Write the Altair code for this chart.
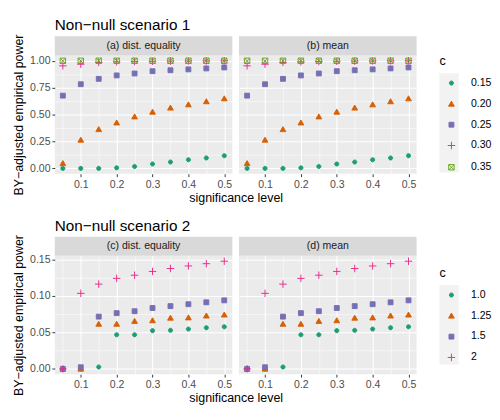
import altair as alt
import pandas as pd

# ---------------- data ----------------
levels = [0.05, 0.10, 0.15, 0.20, 0.25, 0.30, 0.35, 0.40, 0.45, 0.50]

s1_c = ["0.15", "0.20", "0.25", "0.30", "0.35"]
s1_p015 = [0.0, 0.0, 0.0, 0.005, 0.018, 0.041, 0.059, 0.080, 0.097, 0.118]
s1_p020 = [0.047, 0.265, 0.363, 0.425, 0.481, 0.525, 0.563, 0.593, 0.622, 0.649]
s1_p025 = [0.676, 0.782, 0.832, 0.864, 0.882, 0.903, 0.912, 0.920, 0.929, 0.938]
s1_p030 = [0.953, 0.968, 0.985, 0.990, 0.993, 0.995, 0.997, 0.998, 0.999, 1.0]
s1_p035 = [1.0, 1.0, 1.0, 1.0, 1.0, 1.0, 1.0, 1.0, 1.0, 1.0]

s2_c = ["1.0", "1.25", "1.5", "2"]
s2_p10 = [0.0, 0.0, 0.0026, 0.0467, 0.0467, 0.0523, 0.0528, 0.0545, 0.0563, 0.0576]
s2_p125 = [0.0, 0.0, 0.0615, 0.0615, 0.0654, 0.0663, 0.0698, 0.0702, 0.0728, 0.0741]
s2_p15 = [0.0, 0.0022, 0.0715, 0.0763, 0.0789, 0.0833, 0.0859, 0.0885, 0.0911, 0.0938]
s2_p2 = [0.0, 0.1034, 0.116, 0.1239, 0.1282, 0.1334, 0.1374, 0.1409, 0.144, 0.1474]

panels1 = ["(a) dist. equality", "(b) mean"]
panels2 = ["(c) dist. equality", "(d) mean"]
titles = ["Non\u2212null scenario 1", "Non\u2212null scenario 2"]

x_ticks = [0.05, 0.10, 0.15, 0.20, 0.25, 0.30, 0.35, 0.40, 0.45, 0.50]
y1_ticks = [0, 0.125, 0.25, 0.375, 0.5, 0.625, 0.75, 0.875, 1.0]
y2_ticks = [0, 0.025, 0.05, 0.075, 0.10, 0.125, 0.15]

dark2 = ["#1B9E77", "#D95F02", "#7570B3", "#E7298A", "#66A61E"]

# ---------------- shapes ----------------
CIRCLE = "M0.72,0A0.72,0.72,0,1,1,-0.72,0A0.72,0.72,0,1,1,0.72,0Z"
TRI = "M0,-0.95L1.0,0.8L-1.0,0.8Z"
SQUARE = "M-0.85,-0.85L0.85,-0.85L0.85,0.85L-0.85,0.85Z"
PLUS = "M-1.3,0L1.3,0M0,-1.3L0,1.3"
SQX = "M-0.95,-0.95L0.95,-0.95L0.95,0.95L-0.95,0.95ZM-0.95,-0.95L0.95,0.95M-0.95,0.95L0.95,-0.95"

W, H = 186, 124
GAP = 7
ROW = 20.8
LEGX = 24
FONT = "Liberation Sans"


def make_df(cs, series):
    rows = []
    for c, vals in zip(cs, series):
        for lv, v in zip(levels, vals):
            rows.append({"level": lv, "power": v, "c": c})
    return pd.DataFrame(rows)


df1 = make_df(s1_c, [s1_p015, s1_p020, s1_p025, s1_p030, s1_p035])
df2 = make_df(s2_c, [s2_p10, s2_p125, s2_p15, s2_p2])


def grid_cond(mult):
    return f"abs(round(datum.value*{mult}) - datum.value*{mult}) > 0.001"


def panel(df, label, cs, fills, shapes, ydomain, yticks, ymult, yfmt, left, legend_y):
    xtest = grid_cond(10)
    ytest = grid_cond(ymult)
    xaxis = alt.Axis(
        values=x_ticks,
        labelExpr=f"{xtest} ? '' : format(datum.value, '.1f')",
        gridWidth={"condition": {"test": xtest, "value": 0.55}, "value": 1.1},
        tickOpacity={"condition": {"test": xtest, "value": 0}, "value": 1},
        title="significance level" if left else None,
        titleX=W + GAP / 2,
        titleAlign="center",
        titlePadding=3,
    )
    if left:
        yaxis = alt.Axis(
            values=yticks,
            labelExpr=f"{ytest} ? '' : format(datum.value, '{yfmt}')",
            gridWidth={"condition": {"test": ytest, "value": 0.55}, "value": 1.1},
            tickOpacity={"condition": {"test": ytest, "value": 0}, "value": 1},
            title="BY\u2212adjusted empirical power",
            titlePadding=4,
        )
    else:
        yaxis = alt.Axis(
            values=yticks,
            labels=False,
            ticks=False,
            gridWidth={"condition": {"test": ytest, "value": 0.55}, "value": 1.1},
            title=None,
        )
    legend = alt.Legend(
        title="c",
        orient="none",
        legendX=2 * W + GAP + LEGX,
        legendY=legend_y,
        padding=0,
        symbolSize=36,
        symbolStrokeWidth=1,
        symbolOffset=7,
        labelFontSize=11,
        titleFontSize=13,
        titleFontWeight="normal",
        rowPadding=ROW - 11,
        titlePadding=10,
        labelOffset=15,
    )
    pts = alt.Chart(df).mark_point(opacity=1, size=36, strokeWidth=1).encode(
        x=alt.X("level:Q", scale=alt.Scale(domain=[0.0275, 0.5225], nice=False, zero=False), axis=xaxis),
        y=alt.Y("power:Q", scale=alt.Scale(domain=ydomain, nice=False, zero=False), axis=yaxis),
        fill=alt.Fill("c:N", scale=alt.Scale(domain=cs, range=fills), legend=legend),
        stroke=alt.Stroke("c:N", scale=alt.Scale(domain=cs, range=dark2[: len(cs)]), legend=legend),
        shape=alt.Shape("c:N", scale=alt.Scale(domain=cs, range=shapes), legend=legend),
        order=alt.Order("c:N"),
    )
    lab = pd.DataFrame({"label": [label]})
    strip = alt.Chart(lab).mark_rect(color="#D9D9D9").encode(
        x=alt.value(0), x2=alt.value(W), y=alt.value(-20), y2=alt.value(0)
    )
    txt = alt.Chart(lab).mark_text(fontSize=11, color="#1A1A1A", font=FONT, baseline="middle").encode(
        x=alt.value(W / 2), y=alt.value(-10), text="label:N"
    )
    layers = [strip, txt]
    if not left:
        # grey legend-key background (decoration next to the legend)
        ktop = legend_y + 18.1
        keybg = alt.Chart(lab).mark_rect(color="#F2F2F2").encode(
            x=alt.value(W + LEGX), x2=alt.value(W + LEGX + 20),
            y=alt.value(ktop), y2=alt.value(ktop + ROW * len(cs)),
        )
        layers.append(keybg)
    layers.append(pts)
    return alt.layer(*layers).properties(width=W, height=H)


fills1 = ["#1B9E77", "#D95F02", "#7570B3", "#E7298A", "transparent"]
shapes1 = [CIRCLE, TRI, SQUARE, PLUS, SQX]
fills2 = ["#1B9E77", "#D95F02", "#7570B3", "#E7298A"]
shapes2 = [CIRCLE, TRI, SQUARE, PLUS]


def title(t):
    return alt.Title(t, anchor="start", frame="group", fontSize=16, fontWeight="normal",
                     font=FONT, color="black", offset=1)


row1 = alt.hconcat(
    panel(df1, panels1[0], s1_c, fills1, shapes1, [-0.05, 1.05], y1_ticks, 4, ".2f", True, 0.5),
    panel(df1, panels1[1], s1_c, fills1, shapes1, [-0.05, 1.05], y1_ticks, 4, ".2f", False, 0.5),
    spacing=GAP,
    bounds="flush",
    title=title(titles[0]),
).resolve_scale(fill="shared", stroke="shared", shape="shared")

row2 = alt.hconcat(
    panel(df2, panels2[0], s2_c, fills2, shapes2, [-0.00737, 0.1547], y2_ticks, 20, ".2f", True, 12.5),
    panel(df2, panels2[1], s2_c, fills2, shapes2, [-0.00737, 0.1547], y2_ticks, 20, ".2f", False, 12.5),
    spacing=GAP,
    bounds="flush",
    title=title(titles[1]),
).resolve_scale(fill="shared", stroke="shared", shape="shared")

chart = alt.vconcat(row1, row2, spacing=14).resolve_scale(
    fill="independent", stroke="independent", shape="independent"
).resolve_legend(
    fill="independent", stroke="independent", shape="independent"
).properties(
    padding={"left": 5, "top": 0, "right": 0, "bottom": 0}, background="white"
).configure_view(
    fill="#EBEBEB", stroke=None
).configure_axis(
    domain=False,
    gridColor="white",
    tickColor="#333333",
    tickSize=3,
    labelColor="#4D4D4D",
    labelFontSize=11,
    labelFont=FONT,
    labelPadding=2,
    titleFont=FONT,
    titleFontSize=13,
    titleFontWeight="normal",
    titleColor="black",
).configure_legend(
    labelFont=FONT,
    titleFont=FONT,
    labelColor="black",
    titleColor="black",
)

chart.save("out.html", embed_options={"renderer": "svg", "actions": False})
